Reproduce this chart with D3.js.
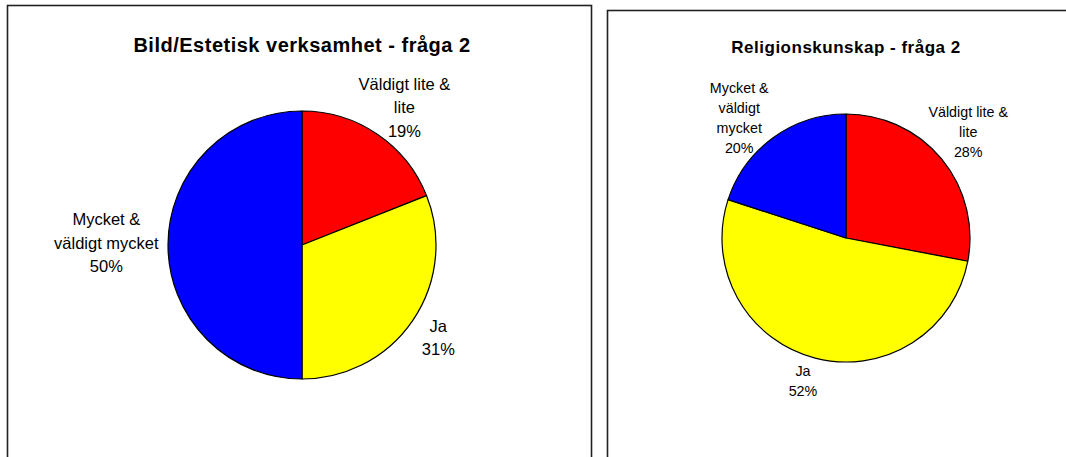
<!DOCTYPE html>
<html>
<head>
<meta charset="utf-8">
<script src="https://cdn.jsdelivr.net/npm/d3@7"></script>
<style>
  body { margin: 0; background: #fff; }
  text { font-family: "Liberation Sans", Arial, sans-serif; fill: #000; }
</style>
</head>
<body>
<svg id="chart" width="1066" height="457"></svg>
<script>
// data (percent)
var categories = ["Väldigt lite & lite", "Ja", "Mycket & väldigt mycket"];
var bildValues = [19, 31, 50];
var religionValues = [28, 52, 20];
var bildLabels = [["Väldigt lite &", "lite"], ["Ja"], ["Mycket &", "väldigt mycket"]];
var religionLabels = [["Väldigt lite &", "lite"], ["Ja"], ["Mycket &", "väldigt", "mycket"]];
var titles = ["Bild/Estetisk verksamhet - fråga 2", "Religionskunskap - fråga 2"];
var colors = ["#ff0000", "#ffff00", "#0000ff"];

var svg = d3.select("#chart");

// layout for each panel
var panels = [
  { values: bildValues, labels: bildLabels, title: titles[0],
    x: 7.5, y: 5.5, w: 584, h: 470, titleY: 52, titleSize: 20,
    cx: 302, cy: 245, r: 134, fontSize: 16.5, lineH: 23.5,
    labelR: [1.28, 1.23, 1.46], nudge: [[6, 4], [0, 0], [0, -2]] },
  { values: religionValues, labels: religionLabels, title: titles[1],
    x: 607.5, y: 10.5, w: 470, h: 470, titleY: 53, titleSize: 17,
    cx: 846, cy: 238, r: 124, fontSize: 14.3, lineH: 20,
    labelR: [1.30, 1.20, 1.30], nudge: [[-2, -3], [-6, -1], [-12, 10]] }
];

var pie = d3.pie().sort(null).value(function(d) { return d; });

panels.forEach(function(p) {
  var g = svg.append("g");

  g.append("rect")
    .attr("x", p.x).attr("y", p.y)
    .attr("width", p.w).attr("height", p.h)
    .attr("fill", "#fff")
    .attr("stroke", "#222")
    .attr("stroke-width", 1.6);

  g.append("text")
    .attr("x", p.cx).attr("y", p.titleY)
    .attr("text-anchor", "middle")
    .attr("font-weight", "bold")
    .attr("font-size", p.titleSize)
    .attr("letter-spacing", 0.5)
    .text(p.title);

  var arc = d3.arc().innerRadius(0).outerRadius(p.r);
  var arcs = pie(p.values);

  var pg = g.append("g").attr("transform", "translate(" + p.cx + "," + p.cy + ")");
  pg.selectAll("path")
    .data(arcs)
    .enter()
    .append("path")
    .attr("d", arc)
    .attr("fill", function(d, i) { return colors[i]; })
    .attr("stroke", "#000")
    .attr("stroke-width", 1.2)
    .attr("stroke-linejoin", "round");

  // labels outside the pie
  arcs.forEach(function(d, i) {
    var mid = (d.startAngle + d.endAngle) / 2;
    var rr = p.r * p.labelR[i];
    var lx = p.cx + rr * Math.sin(mid) + p.nudge[i][0];
    var ly = p.cy - rr * Math.cos(mid) + p.nudge[i][1];
    var lines = p.labels[i].concat([d.value + "%"]);
    var y0 = ly - (lines.length - 1) * p.lineH / 2 + p.fontSize * 0.36;
    var t = g.append("text")
      .attr("text-anchor", "middle")
      .attr("font-size", p.fontSize);
    lines.forEach(function(s, k) {
      t.append("tspan").attr("x", lx).attr("y", y0 + k * p.lineH).text(s);
    });
  });
});
</script>
</body>
</html>
